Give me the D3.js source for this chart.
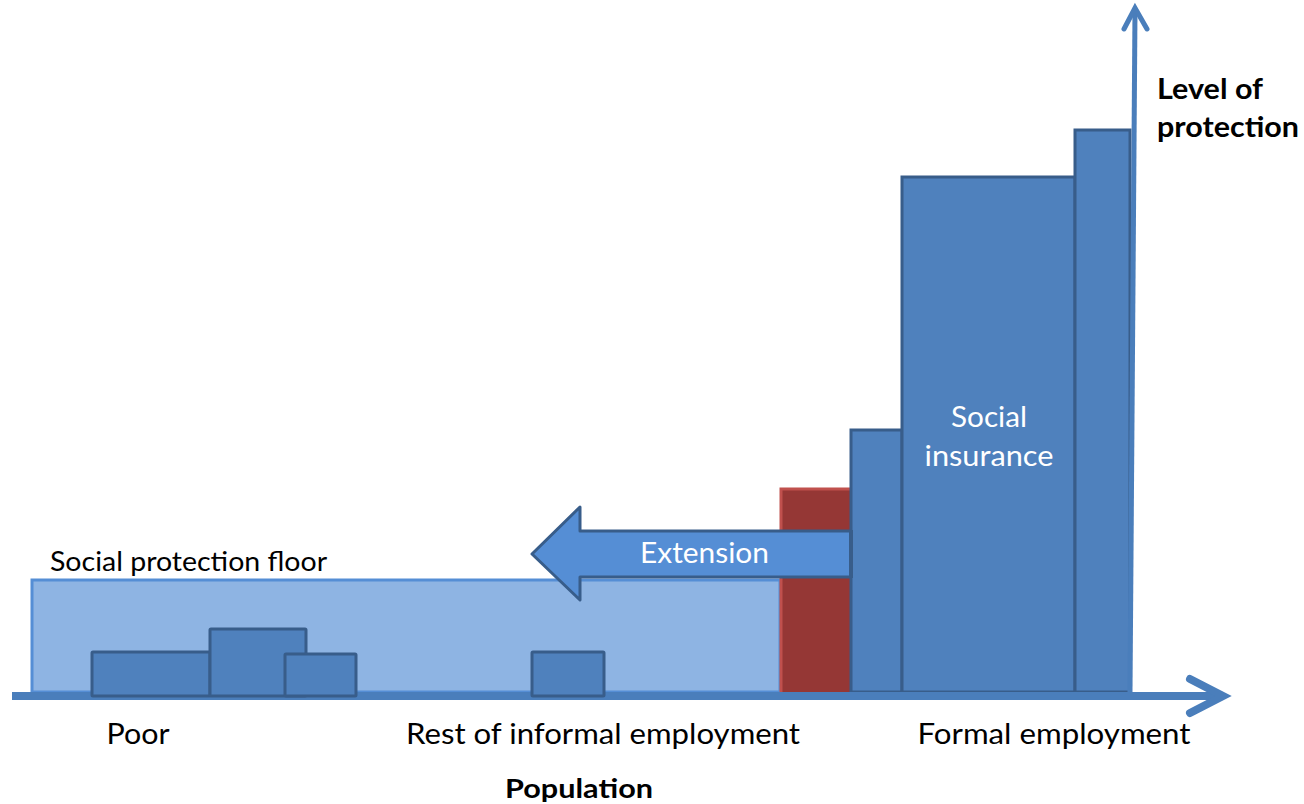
<!DOCTYPE html>
<html>
<head>
<meta charset="utf-8">
<script src="https://cdn.jsdelivr.net/npm/d3@7"></script>
<style>
  html, body { margin: 0; padding: 0; background: #fff; }
  svg { display: block; font-family: "Lato", "Open Sans", sans-serif; }
</style>
</head>
<body>
<svg id="chart" width="1304" height="804"></svg>
<script>
// Population segments (start, end) and their level of protection
const floorStart = 0, floorEnd = 748, floorLevel = 112;
const poorStarts = [60, 178, 253, 500];
const poorEnds   = [178, 274, 324, 572];
const poorLevels = [40, 63, 38, 40];
const transitionStart = 748, transitionEnd = 819, transitionLevel = 204;
const insuranceStarts = [819, 870, 1043];
const insuranceEnds   = [870, 1043, 1098];
const insuranceLevels = [262, 515, 562];
const extensionFrom = 819, extensionTo = 500, extensionLevel = 138;
const groupLabels = ["Poor", "Rest of informal employment", "Formal employment"];
const groupLabelPos = [106, 571, 1022];
const groupLabelWidths = [63, 394, 273];

const svg = d3.select("#chart");
const x = d3.scaleLinear().domain([0, 1100]).range([32, 1132]);
const y = d3.scaleLinear().domain([0, 600]).range([692, 92]);
const axisColor = "#4a7ebb";

// Social protection floor
svg.append("rect")
  .attr("x", x(floorStart)).attr("y", y(floorLevel))
  .attr("width", x(floorEnd) - x(floorStart)).attr("height", y(0) - y(floorLevel))
  .attr("fill", "#8eb4e3").attr("stroke", "#558ed5").attr("stroke-width", 3);

svg.append("text").attr("x", x(floorStart) + 18).attr("y", y(floorLevel) - 9)
  .attr("font-size", 27).attr("fill", "#000")
  .attr("textLength", 277).attr("lengthAdjust", "spacingAndGlyphs")
  .text("Social protection floor");

// Transition bar
svg.append("rect")
  .attr("x", x(transitionStart)).attr("y", y(transitionLevel))
  .attr("width", x(transitionEnd) - x(transitionStart)).attr("height", y(0) - y(transitionLevel))
  .attr("fill", "#953735");
svg.append("path")
  .attr("d", `M${x(transitionStart) + 1},${y(0)}V${y(transitionLevel) + 1}H${x(transitionEnd)}`)
  .attr("fill", "none").attr("stroke", "#c0504d").attr("stroke-width", 3);

// Social insurance bars
svg.selectAll("rect.ins").data(insuranceLevels).join("rect").attr("class", "ins")
  .attr("x", (d, i) => x(insuranceStarts[i])).attr("y", d => y(d))
  .attr("width", (d, i) => x(insuranceEnds[i]) - x(insuranceStarts[i]))
  .attr("height", d => y(0) - y(d))
  .attr("fill", "#4f81bd").attr("stroke", "#385d8a").attr("stroke-width", 3);

svg.append("text").attr("text-anchor", "middle").attr("font-size", 28).attr("fill", "#fff")
  .selectAll("tspan").data(["Social", "insurance"]).join("tspan")
  .attr("x", x(957)).attr("y", (d, i) => 427 + i * 39)
  .attr("textLength", (d, i) => i ? 129 : 76).attr("lengthAdjust", "spacingAndGlyphs")
  .text(d => d);

// Extension arrow
const ey = y(extensionLevel);
const tail = x(extensionFrom), tip = x(extensionTo), neck = tip + 48;
svg.append("path")
  .attr("d", `M${tail},${ey - 23}H${neck}V${ey - 47}L${tip},${ey}L${neck},${ey + 46}V${ey + 23}H${tail}`)
  .attr("fill", "#558ed5").attr("stroke", "#385d8a").attr("stroke-width", 3)
  .attr("stroke-linejoin", "round");
svg.append("line").attr("x1", tail).attr("x2", tail).attr("y1", ey - 24).attr("y2", ey + 24)
  .attr("stroke", "#385d8a").attr("stroke-width", 4);
svg.append("text").attr("x", 640).attr("y", ey + 9)
  .attr("font-size", 28).attr("fill", "#fff")
  .attr("textLength", 129).attr("lengthAdjust", "spacingAndGlyphs").text("Extension");

// Population axis
svg.append("line").attr("x1", 12).attr("x2", 1222).attr("y1", y(0) + 4).attr("y2", y(0) + 4)
  .attr("stroke", axisColor).attr("stroke-width", 8);
svg.append("path").attr("d", `M1190,679L1223,${y(0) + 4}L1190,713`)
  .attr("fill", "none").attr("stroke", axisColor).attr("stroke-width", 8)
  .attr("stroke-linecap", "round").attr("stroke-linejoin", "miter");

// Small benefits for the poor / informal workers (sit on top of the axis)
svg.selectAll("rect.poor").data(poorLevels).join("rect").attr("class", "poor")
  .attr("x", (d, i) => x(poorStarts[i])).attr("y", d => y(d))
  .attr("width", (d, i) => x(poorEnds[i]) - x(poorStarts[i]))
  .attr("height", d => y(0) - y(d) + 4)
  .attr("fill", "#4f81bd").attr("stroke", "#385d8a").attr("stroke-width", 3).attr("rx", 1);

// Level of protection axis
svg.append("line").attr("x1", 1130).attr("x2", 1135).attr("y1", 692).attr("y2", 10)
  .attr("stroke", axisColor).attr("stroke-width", 5);
svg.append("path").attr("d", "M1124,29L1135,8L1147,29")
  .attr("fill", "none").attr("stroke", axisColor).attr("stroke-width", 5)
  .attr("stroke-linecap", "round");

// Labels
svg.selectAll("text.grp").data(groupLabels).join("text").attr("class", "grp")
  .attr("x", (d, i) => x(groupLabelPos[i]) - groupLabelWidths[i] / 2).attr("y", 744)
  .attr("font-size", 28).attr("fill", "#000")
  .attr("textLength", (d, i) => groupLabelWidths[i]).attr("lengthAdjust", "spacingAndGlyphs")
  .text(d => d);

svg.append("text").attr("x", 505).attr("y", 798)
  .attr("font-size", 27).attr("font-weight", "bold").attr("fill", "#000")
  .attr("textLength", 148).attr("lengthAdjust", "spacingAndGlyphs").text("Population");

svg.append("text").attr("font-size", 28).attr("font-weight", "bold").attr("fill", "#000")
  .selectAll("tspan").data(["Level of", "protection"]).join("tspan")
  .attr("x", 1157).attr("y", (d, i) => 99 + i * 38)
  .attr("textLength", (d, i) => i ? 142 : 106).attr("lengthAdjust", "spacingAndGlyphs")
  .text(d => d);
</script>
</body>
</html>
